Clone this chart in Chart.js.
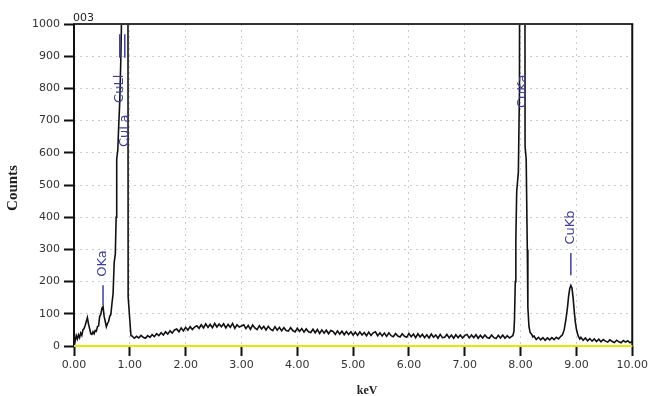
<!DOCTYPE html>
<html><head><meta charset="utf-8">
<script src="https://cdn.jsdelivr.net/npm/chart.js@4"></script>
<style>html,body{margin:0;padding:0;background:#fff}#wrap{width:651px;height:396px;position:relative}</style>
</head><body><div id="wrap"><canvas id="c"></canvas></div>
<script>
// ---- DATA (keV, counts) ----
const lowRegion = [[0,28],[0.02,14],[0.04,32],[0.06,22],[0.08,35],[0.10,26],[0.12,40],[0.14,33],[0.16,50],[0.18,54],
 [0.20,64],[0.22,76],[0.24,88],[0.26,68],[0.28,54],[0.30,38],[0.32,36],[0.34,44],[0.36,38],[0.38,48],[0.40,46],
 [0.42,60],[0.44,62],[0.46,92],[0.48,98],[0.50,117],[0.52,123],[0.54,92],[0.56,76],[0.58,60],[0.60,70],[0.62,76],
 [0.64,92],[0.66,98],[0.68,132],[0.70,162],[0.72,260],[0.74,285],[0.755,400],[0.765,580],[0.785,610],[0.80,680],
 [0.82,760],[0.84,900],[0.85,1000],[0.87,3000],[0.96,3000],[0.97,153],[1.00,80],[1.02,32]];
const bgStartKeV = 1.04, bgStepKeV = 0.04;
const bgCounts = [31,24,30,25,33,27,24,32,27,35, 29,38,32,41,34,44,37,47,40,50,
 53,44,56,47,58,49,60,51,59,63, 55,66,56,69,58,67,57,70,59,68, 60,69,56,67,58,70,55,66,59,62,
 66,54,64,52,65,56,51,63,53,61, 50,61,52,48,60,49,58,47,57,48, 46,57,48,44,55,45,54,43,53,44,
 42,52,41,51,39,50,40,49,38,48, 45,36,47,37,46,35,45,36,44,34, 43,33,44,34,42,32,43,33,41,44,
 32,41,31,40,30,41,32,29,39,31, 28,38,30,27,39,29,37,26,38,28, 36,26,35,25,37,27,34,24,36,26,
 27,36,25,34,24,35,26,34,25,33, 36,25,34,26,35,24,33,25,34,26, 24,34,26,23,33,25,34,24,32,25, 30];
const cuKaRegion = [[7.86,32],[7.88,45],[7.89,80],[7.905,200],[7.915,330],[7.93,480],[7.96,540],[7.98,800],
 [7.99,3000],[8.07,3000],[8.08,620],[8.10,580],[8.12,300],[8.13,120],[8.15,60],[8.17,42],[8.20,36],[8.22,28],[8.24,31]];
const cuKbRegion = [[8.28,20],[8.32,27],[8.36,19],[8.40,26],[8.44,18],[8.48,25],[8.52,19],[8.56,26],[8.60,20],
 [8.64,27],[8.68,22],[8.72,30],[8.75,35],[8.78,50],[8.81,80],[8.84,120],[8.86,155],[8.88,178],[8.90,188],[8.92,180],
 [8.94,150],[8.96,110],[8.98,75],[9.00,52],[9.02,38],[9.04,28],[9.06,22]];
const tailStartKeV = 9.08, tailStepKeV = 0.04;
const tailCounts = [27,18,25,16,23,15,22,14,21,13,20,15,12,19,14,11,18,13,10,17,12,16,10,15];

const xTicks = [0,1,2,3,4,5,6,7,8,9,10];
const yTicks = [0,100,200,300,400,500,600,700,800,900,1000];

const peakLabels = ['OKa','CuLl','CuLa','CuKa','CuKb'];
const peakKeV    = [0.52, 0.82, 0.91, 8.03, 8.90];
const labelFrom  = [215, 755, 618, 739, 315];
const markerFrom = [127, 895, 895, null, 220];
const markerTo   = [189, 968, 968, null, 289];

// ---- build dataset ----
const spectrum = [];
lowRegion.forEach(p => spectrum.push({x:p[0], y:p[1]}));
bgCounts.forEach((c,i) => spectrum.push({x:+(bgStartKeV + i*bgStepKeV).toFixed(3), y:c}));
cuKaRegion.forEach(p => spectrum.push({x:p[0], y:p[1]}));
cuKbRegion.forEach(p => spectrum.push({x:p[0], y:p[1]}));
tailCounts.forEach((c,i) => spectrum.push({x:+(tailStartKeV + i*tailStepKeV).toFixed(3), y:c}));

const tickFont = {family:'DejaVu Sans', size:11};

const overlay = {
  id:'overlay',
  afterDatasetsDraw(chart){
    const {ctx, chartArea:a, scales:{x, y}} = chart;
    ctx.save();
    const seg = (x1,y1,x2,y2,c,w) => {ctx.beginPath();ctx.strokeStyle=c;ctx.lineWidth=w;ctx.moveTo(x1,y1);ctx.lineTo(x2,y2);ctx.stroke();};
    seg(a.left-1, a.top, a.right+1, a.top, '#333', 2);
    seg(a.right, a.top, a.right, a.bottom, '#111', 2);
    seg(a.left, a.top, a.left, a.bottom+1, '#111', 2);
    seg(a.left, a.bottom, a.right, a.bottom, '#e6e600', 2);
    // peak labels
    ctx.fillStyle = '#3e3e9e';
    ctx.font = '13px "DejaVu Sans"';
    peakLabels.forEach((t,i) => {
      const px = x.getPixelForValue(peakKeV[i]);
      if (markerFrom[i] !== null) seg(px, y.getPixelForValue(markerFrom[i]), px, y.getPixelForValue(markerTo[i]), '#3e3e9e', 1.5);
      ctx.save();
      ctx.translate(px, y.getPixelForValue(labelFrom[i]));
      ctx.rotate(-Math.PI/2);
      ctx.textAlign = 'left'; ctx.textBaseline = 'middle';
      ctx.fillText(t, 0, 0);
      ctx.restore();
    });
    // titles
    ctx.fillStyle = '#222';
    ctx.font = '11px "DejaVu Sans"';
    ctx.textAlign = 'left'; ctx.textBaseline = 'alphabetic';
    ctx.fillText('003', a.left - 1, a.top - 3);
    ctx.font = 'bold 12px "Liberation Serif"';
    ctx.textAlign = 'center';
    ctx.fillText('keV', (a.left + a.right)/2 + 14, 394);
    ctx.save();
    ctx.translate(17, 188);
    ctx.rotate(-Math.PI/2);
    ctx.font = 'bold 15px "Liberation Serif"';
    ctx.textAlign = 'center';
    ctx.fillText('Counts', 0, 0);
    ctx.restore();
    ctx.restore();
  }
};

new Chart(document.getElementById('c'), {
  type:'scatter',
  data:{datasets:[{data:spectrum, showLine:true, borderColor:'#111', borderWidth:1.6, pointRadius:0, tension:0, fill:false}]},
  options:{
    responsive:true, maintainAspectRatio:false, animation:false,
    layout:{padding:{top:24, right:18, left:0, bottom:0}},
    plugins:{legend:{display:false}, tooltip:{enabled:false}},
    scales:{
      x:{type:'linear', min:0, max:10,
        afterBuildTicks(s){ s.ticks = xTicks.map(v=>({value:v})); },
        ticks:{callback:v=>Number(v).toFixed(2), font:tickFont, color:'#333', padding:3, maxRotation:0, autoSkip:false},
        grid:{color:'#cccccc', lineWidth:1, tickLength:10, tickColor:'#111', tickWidth:2},
        border:{display:false, dash:[2,4]},
        afterFit(s){ s.height = 50; }},
      y:{min:0, max:1000,
        afterBuildTicks(s){ s.ticks = yTicks.map(v=>({value:v})); },
        ticks:{callback:v=>String(v), font:tickFont, color:'#333', padding:4},
        grid:{color:'#cccccc', lineWidth:1, tickLength:10, tickColor:'#111', tickWidth:2},
        border:{display:false, dash:[2,4]},
        afterFit(s){ s.width = 74; }}
    }
  },
  plugins:[overlay]
});
</script></body></html>
